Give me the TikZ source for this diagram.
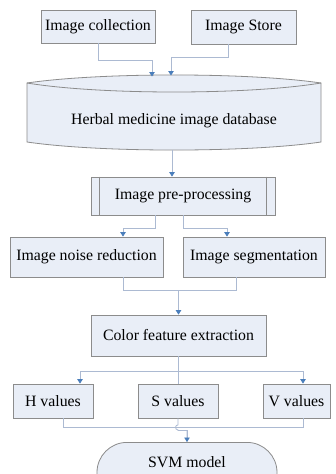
\documentclass[tikz,border=0pt]{standalone}
\usepackage{fontspec}
\setmainfont{Liberation Serif}
\usetikzlibrary{arrows.meta,calc}
\definecolor{boxfill}{RGB}{233,238,247}
\definecolor{boxline}{RGB}{140,140,140}
\definecolor{conn}{RGB}{172,186,210}
\definecolor{tipc}{RGB}{74,126,187}
\begin{document}
\begin{tikzpicture}[x=1pt,y=-1pt,
  font=\fontsize{15.8}{18}\selectfont,
  box/.style={draw=boxline, fill=boxfill, line width=0.8pt, inner sep=0pt},
  link/.style={draw=conn, line width=0.8pt},
  arr/.style={link, -{Triangle[width=5.5pt,length=4.5pt,color=tipc]}}]
\useasboundingbox (0,0) rectangle (336,474);
\clip (0,0) rectangle (336,474);
\fill[white] (0,0) rectangle (336,474);

% top boxes
\node[box, minimum width=114pt, minimum height=33pt] (coll) at (98,26.5) {Image collection};
\node[box, minimum width=105pt, minimum height=34pt] (store) at (243.5,27) {Image Store};

% database (flat cylinder)
\path[box] (27,83) .. controls (100,72.3) and (248,72.3) .. (321,83)
  -- (321,142) .. controls (248,152.7) and (100,152.7) .. (27,142) -- cycle;
\draw[draw=boxline, line width=0.8pt] (27,83) .. controls (100,95) and (248,95) .. (321,83);
\node (db) at (174,121) {Herbal medicine image database};
\coordinate (dbin1) at (152,76.5);
\coordinate (dbin2) at (171,75.5);
\coordinate (dbout) at (172,150);

% pre-processing
\node[box, minimum width=184pt, minimum height=38pt] (pre) at (183,196) {Image pre-processing};
\draw[draw=boxline, line width=0.8pt] ($(pre.north west)+(9,0)$) -- ($(pre.south west)+(9,0)$);
\draw[draw=boxline, line width=0.8pt] ($(pre.north east)+(-9,0)$) -- ($(pre.south east)+(-9,0)$);

\node[box, minimum width=153pt, minimum height=40pt] (noise) at (86.5,257) {Image noise reduction};
\node[box, minimum width=142pt, minimum height=40pt] (seg) at (254,257) {Image segmentation};

\node[box, minimum width=175pt, minimum height=41pt] (color) at (178.5,335.5) {Color feature extraction};

\node[box, minimum width=80pt, minimum height=34pt] (H) at (53,401) {H values};
\node[box, minimum width=80pt, minimum height=34pt] (S) at (178,401) {S values};
\node[box, minimum width=67pt, minimum height=34pt] (V) at (296.5,401) {V values};

\node[box, rounded corners=30pt, minimum width=180pt, anchor=north, text height=25pt, text depth=35pt] (svm) at (187,442) {SVM model};

% connectors
\draw[arr] (coll.south) -- ++(0,17) -| (dbin1);
\draw[arr] ($(store.south)+(-15.5,0)$) -- ++(0,13) -| (dbin2);
\draw[arr] (dbout) -- (dbout |- pre.north);

\coordinate (p1) at ($(pre.south)+(-28,0)$);
\coordinate (n1) at ($(noise.north)+(36.5,0)$);
\draw[arr] (p1) -- ++(0,13) -| (n1);
\coordinate (s1) at ($(seg.north)+(-27,0)$);
\draw[arr] (pre.south) -- ++(0,13) -| (s1);

\coordinate (n2) at ($(noise.south)+(36.5,0)$);
\coordinate (s2) at ($(seg.south)+(-18,0)$);
\draw[link] (n2) -- ++(0,13) -| (s2);
\coordinate (j1) at ($(n2)+(0,13)$);
\draw[arr] (color.north |- j1) -- (color.north);

\coordinate (c1) at ($(color.south)+(0,15)$);
\coordinate (h1) at ($(H.north)+(27,0)$);
\coordinate (v1) at ($(V.north)+(6.5,0)$);
\draw[link] (color.south) -- (c1);
\draw[arr] (c1) -| (h1);
\draw[arr] (c1) -| (v1);
\draw[link] (c1 -| S.north) -- (S.north);

\coordinate (h2) at ($(H.south)+(10,0)$);
\coordinate (v2) at ($(V.south)+(6.5,0)$);
\draw[link] (h2) -- ++(0,9) -| (v2);
\coordinate (sv) at ($(svm.north)$);
\draw[link] (S.south) -- ++(0,6.5) arc[start angle=90, end angle=270, radius=2.5pt] -- ++(0,0.5) -| (sv);
\draw[arr] ($(sv)+(0,-12)$) -- (sv);
\end{tikzpicture}
\end{document}
